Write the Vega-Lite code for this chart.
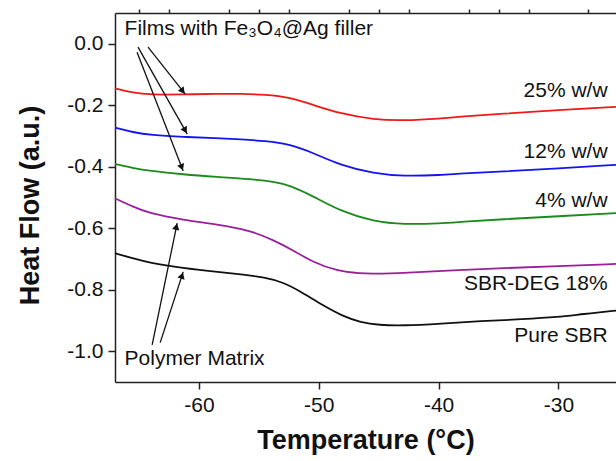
{
  "$schema": "https://vega.github.io/schema/vega-lite/v6.json",
  "width": 501,
  "height": 369,
  "autosize": {"type": "none"},
  "padding": {"left": 115, "top": 13, "right": 0, "bottom": 79},
  "background": "white",
  "config": {
    "font": "Liberation Sans",
    "view": {"stroke": null},
    "locale": {"number": {"decimal": ".", "thousands": ",", "grouping": [3], "currency": ["$", ""], "minus": "-"}},
    "axis": {"grid": false, "domainColor": "#222222", "tickColor": "#222222", "labelColor": "#111111", "titleColor": "#111111", "labelFont": "Liberation Sans", "titleFont": "Liberation Sans", "domainWidth": 1.5, "tickWidth": 1.5}
  },
  "datasets": {
    "curves": [
      {"series": "25% w/w", "t": -67, "hf": -0.145},
      {"series": "25% w/w", "t": -65.5, "hf": -0.16},
      {"series": "25% w/w", "t": -64, "hf": -0.166},
      {"series": "25% w/w", "t": -61.5, "hf": -0.165},
      {"series": "25% w/w", "t": -58.5, "hf": -0.163},
      {"series": "25% w/w", "t": -56.5, "hf": -0.163},
      {"series": "25% w/w", "t": -54.5, "hf": -0.165},
      {"series": "25% w/w", "t": -52.4, "hf": -0.174},
      {"series": "25% w/w", "t": -50.4, "hf": -0.2},
      {"series": "25% w/w", "t": -48.2, "hf": -0.227},
      {"series": "25% w/w", "t": -45.4, "hf": -0.247},
      {"series": "25% w/w", "t": -42.9, "hf": -0.25},
      {"series": "25% w/w", "t": -39.8, "hf": -0.243},
      {"series": "25% w/w", "t": -38.1, "hf": -0.237},
      {"series": "25% w/w", "t": -34.8, "hf": -0.228},
      {"series": "25% w/w", "t": -30, "hf": -0.216},
      {"series": "25% w/w", "t": -25.2, "hf": -0.205},
      {"series": "12% w/w", "t": -67, "hf": -0.273},
      {"series": "12% w/w", "t": -65.5, "hf": -0.288},
      {"series": "12% w/w", "t": -64, "hf": -0.297},
      {"series": "12% w/w", "t": -61.3, "hf": -0.303},
      {"series": "12% w/w", "t": -58.5, "hf": -0.307},
      {"series": "12% w/w", "t": -56.5, "hf": -0.311},
      {"series": "12% w/w", "t": -54.5, "hf": -0.316},
      {"series": "12% w/w", "t": -52.4, "hf": -0.327},
      {"series": "12% w/w", "t": -50.4, "hf": -0.356},
      {"series": "12% w/w", "t": -48.2, "hf": -0.395},
      {"series": "12% w/w", "t": -45.4, "hf": -0.422},
      {"series": "12% w/w", "t": -42.9, "hf": -0.431},
      {"series": "12% w/w", "t": -39.8, "hf": -0.427},
      {"series": "12% w/w", "t": -38.1, "hf": -0.422},
      {"series": "12% w/w", "t": -34.8, "hf": -0.416},
      {"series": "12% w/w", "t": -30, "hf": -0.405},
      {"series": "12% w/w", "t": -25.2, "hf": -0.394},
      {"series": "4% w/w", "t": -67, "hf": -0.391},
      {"series": "4% w/w", "t": -65.5, "hf": -0.404},
      {"series": "4% w/w", "t": -64.2, "hf": -0.413},
      {"series": "4% w/w", "t": -61.3, "hf": -0.425},
      {"series": "4% w/w", "t": -58.5, "hf": -0.433},
      {"series": "4% w/w", "t": -55.7, "hf": -0.44},
      {"series": "4% w/w", "t": -53.7, "hf": -0.449},
      {"series": "4% w/w", "t": -52.4, "hf": -0.46},
      {"series": "4% w/w", "t": -50.4, "hf": -0.497},
      {"series": "4% w/w", "t": -48.2, "hf": -0.544},
      {"series": "4% w/w", "t": -45.4, "hf": -0.579},
      {"series": "4% w/w", "t": -42.9, "hf": -0.588},
      {"series": "4% w/w", "t": -39.8, "hf": -0.584},
      {"series": "4% w/w", "t": -38.1, "hf": -0.579},
      {"series": "4% w/w", "t": -34.8, "hf": -0.571},
      {"series": "4% w/w", "t": -30, "hf": -0.561},
      {"series": "4% w/w", "t": -25.2, "hf": -0.551},
      {"series": "SBR-DEG 18%", "t": -67, "hf": -0.503},
      {"series": "SBR-DEG 18%", "t": -65.5, "hf": -0.53},
      {"series": "SBR-DEG 18%", "t": -64.2, "hf": -0.551},
      {"series": "SBR-DEG 18%", "t": -61.3, "hf": -0.573},
      {"series": "SBR-DEG 18%", "t": -58.5, "hf": -0.587},
      {"series": "SBR-DEG 18%", "t": -55.7, "hf": -0.607},
      {"series": "SBR-DEG 18%", "t": -53.7, "hf": -0.64},
      {"series": "SBR-DEG 18%", "t": -52, "hf": -0.675},
      {"series": "SBR-DEG 18%", "t": -50.5, "hf": -0.71},
      {"series": "SBR-DEG 18%", "t": -48.5, "hf": -0.739},
      {"series": "SBR-DEG 18%", "t": -46.5, "hf": -0.747},
      {"series": "SBR-DEG 18%", "t": -45.4, "hf": -0.748},
      {"series": "SBR-DEG 18%", "t": -42.9, "hf": -0.745},
      {"series": "SBR-DEG 18%", "t": -38.1, "hf": -0.736},
      {"series": "SBR-DEG 18%", "t": -34.8, "hf": -0.73},
      {"series": "SBR-DEG 18%", "t": -30, "hf": -0.723},
      {"series": "SBR-DEG 18%", "t": -25.2, "hf": -0.716},
      {"series": "Pure SBR", "t": -67, "hf": -0.681},
      {"series": "Pure SBR", "t": -65.5, "hf": -0.698},
      {"series": "Pure SBR", "t": -64.2, "hf": -0.712},
      {"series": "Pure SBR", "t": -61.3, "hf": -0.73},
      {"series": "Pure SBR", "t": -58.5, "hf": -0.742},
      {"series": "Pure SBR", "t": -56.5, "hf": -0.75},
      {"series": "Pure SBR", "t": -54.5, "hf": -0.76},
      {"series": "Pure SBR", "t": -53, "hf": -0.775},
      {"series": "Pure SBR", "t": -51.4, "hf": -0.808},
      {"series": "Pure SBR", "t": -49.7, "hf": -0.85},
      {"series": "Pure SBR", "t": -48, "hf": -0.886},
      {"series": "Pure SBR", "t": -46.5, "hf": -0.906},
      {"series": "Pure SBR", "t": -45, "hf": -0.915},
      {"series": "Pure SBR", "t": -42.9, "hf": -0.917},
      {"series": "Pure SBR", "t": -39.8, "hf": -0.91},
      {"series": "Pure SBR", "t": -36.5, "hf": -0.902},
      {"series": "Pure SBR", "t": -33, "hf": -0.896},
      {"series": "Pure SBR", "t": -30, "hf": -0.889},
      {"series": "Pure SBR", "t": -28, "hf": -0.879},
      {"series": "Pure SBR", "t": -25.2, "hf": -0.868}
    ],
    "arrows": [
      {"x": -64.24, "y": -0.011, "x2": -61.14, "y2": -0.164},
      {"x": -65.08, "y": -0.011, "x2": -60.97, "y2": -0.294},
      {"x": -65.16, "y": -0.028, "x2": -61.31, "y2": -0.414},
      {"x": -63.9, "y": -0.979, "x2": -61.81, "y2": -0.583},
      {"x": -63.23, "y": -0.972, "x2": -61.31, "y2": -0.742}
    ],
    "heads": [
      {"x": -61.35, "y": -0.154, "angle": 141.8},
      {"x": -61.14, "y": -0.282, "angle": 150.6},
      {"x": -61.43, "y": -0.402, "angle": 158.9},
      {"x": -61.88, "y": -0.595, "angle": 11.6},
      {"x": -61.41, "y": -0.754, "angle": 17.9}
    ],
    "leftText": [
      {"x": -66.2, "y": 0.0285, "label": "Films with Fe₃O₄@Ag filler"},
      {"x": -66.2, "y": -1.045, "label": "Polymer Matrix"}
    ],
    "rightText": [
      {"x": -25.9, "y": -0.174, "label": "25% w/w"},
      {"x": -25.9, "y": -0.3725, "label": "12% w/w"},
      {"x": -25.9, "y": -0.53, "label": "4% w/w"},
      {"x": -25.9, "y": -0.801, "label": "SBR-DEG 18%"},
      {"x": -25.9, "y": -0.969, "label": "Pure SBR"}
    ]
  },
  "resolve": {"axis": {"x": "independent", "y": "independent"}},
  "layer": [
    {
      "data": {"name": "curves"},
      "mark": {"type": "line", "interpolate": "basis", "strokeWidth": 1.8},
      "encoding": {
        "x": {"field": "t", "type": "quantitative", "scale": {"domain": [-67, -25.2], "nice": false, "zero": false},
          "axis": {"values": [-60, -50, -40, -30], "tickSize": 7, "labelFontSize": 21, "labelPadding": 5, "labelFlush": false, "title": "Temperature (°C)", "titleFontSize": 27, "titleFontWeight": "bold", "titlePadding": 12}},
        "y": {"field": "hf", "type": "quantitative", "scale": {"domain": [-1.1, 0.1], "nice": false, "zero": false},
          "axis": {"values": [0, -0.2, -0.4, -0.6, -0.8, -1.0], "format": ".1f", "tickSize": 7, "labelFontSize": 21, "labelPadding": 5, "labelFlush": false, "title": "Heat Flow (a.u.)", "titleFontSize": 27, "titleFontWeight": "bold", "titlePadding": 22, "titleY": 192}},
        "color": {"field": "series", "type": "nominal",
          "scale": {"domain": ["25% w/w", "12% w/w", "4% w/w", "SBR-DEG 18%", "Pure SBR"], "range": ["#f01818", "#1414f0", "#1a8a1a", "#9a1f9a", "#111111"]},
          "legend": null}
      }
    },
    {
      "data": {"name": "arrows"},
      "mark": {"type": "rule", "strokeWidth": 1.3, "color": "#111111"},
      "encoding": {
        "x": {"field": "x", "type": "quantitative",
          "axis": {"values": [-65, -62.5, -57.5, -55, -52.5, -47.5, -45, -42.5, -37.5, -35, -32.5, -27.5], "tickSize": 4, "labels": false, "domain": false, "title": null}},
        "y": {"field": "y", "type": "quantitative",
          "axis": {"values": [0.05, -0.05, -0.1, -0.15, -0.25, -0.3, -0.35, -0.45, -0.5, -0.55, -0.65, -0.7, -0.75, -0.85, -0.9, -0.95, -1.05], "tickSize": 4, "labels": false, "domain": false, "title": null}},
        "x2": {"field": "x2"},
        "y2": {"field": "y2"}
      }
    },
    {
      "data": {"name": "heads"},
      "mark": {"type": "point", "shape": "triangle-up", "filled": true, "size": 55, "color": "#111111", "opacity": 1},
      "encoding": {
        "x": {"field": "x", "type": "quantitative", "axis": {"orient": "top", "ticks": false, "labels": false, "domain": true, "title": null}},
        "y": {"field": "y", "type": "quantitative", "axis": null},
        "angle": {"field": "angle", "type": "quantitative", "scale": null}
      }
    },
    {
      "data": {"name": "leftText"},
      "mark": {"type": "text", "align": "left", "baseline": "alphabetic", "fontSize": 21, "color": "#111111"},
      "encoding": {
        "x": {"field": "x", "type": "quantitative", "axis": null},
        "y": {"field": "y", "type": "quantitative", "axis": null},
        "text": {"field": "label"}
      }
    },
    {
      "data": {"name": "rightText"},
      "mark": {"type": "text", "align": "right", "baseline": "alphabetic", "fontSize": 21, "color": "#111111"},
      "encoding": {
        "x": {"field": "x", "type": "quantitative", "axis": null},
        "y": {"field": "y", "type": "quantitative", "axis": null},
        "text": {"field": "label"}
      }
    }
  ]
}
